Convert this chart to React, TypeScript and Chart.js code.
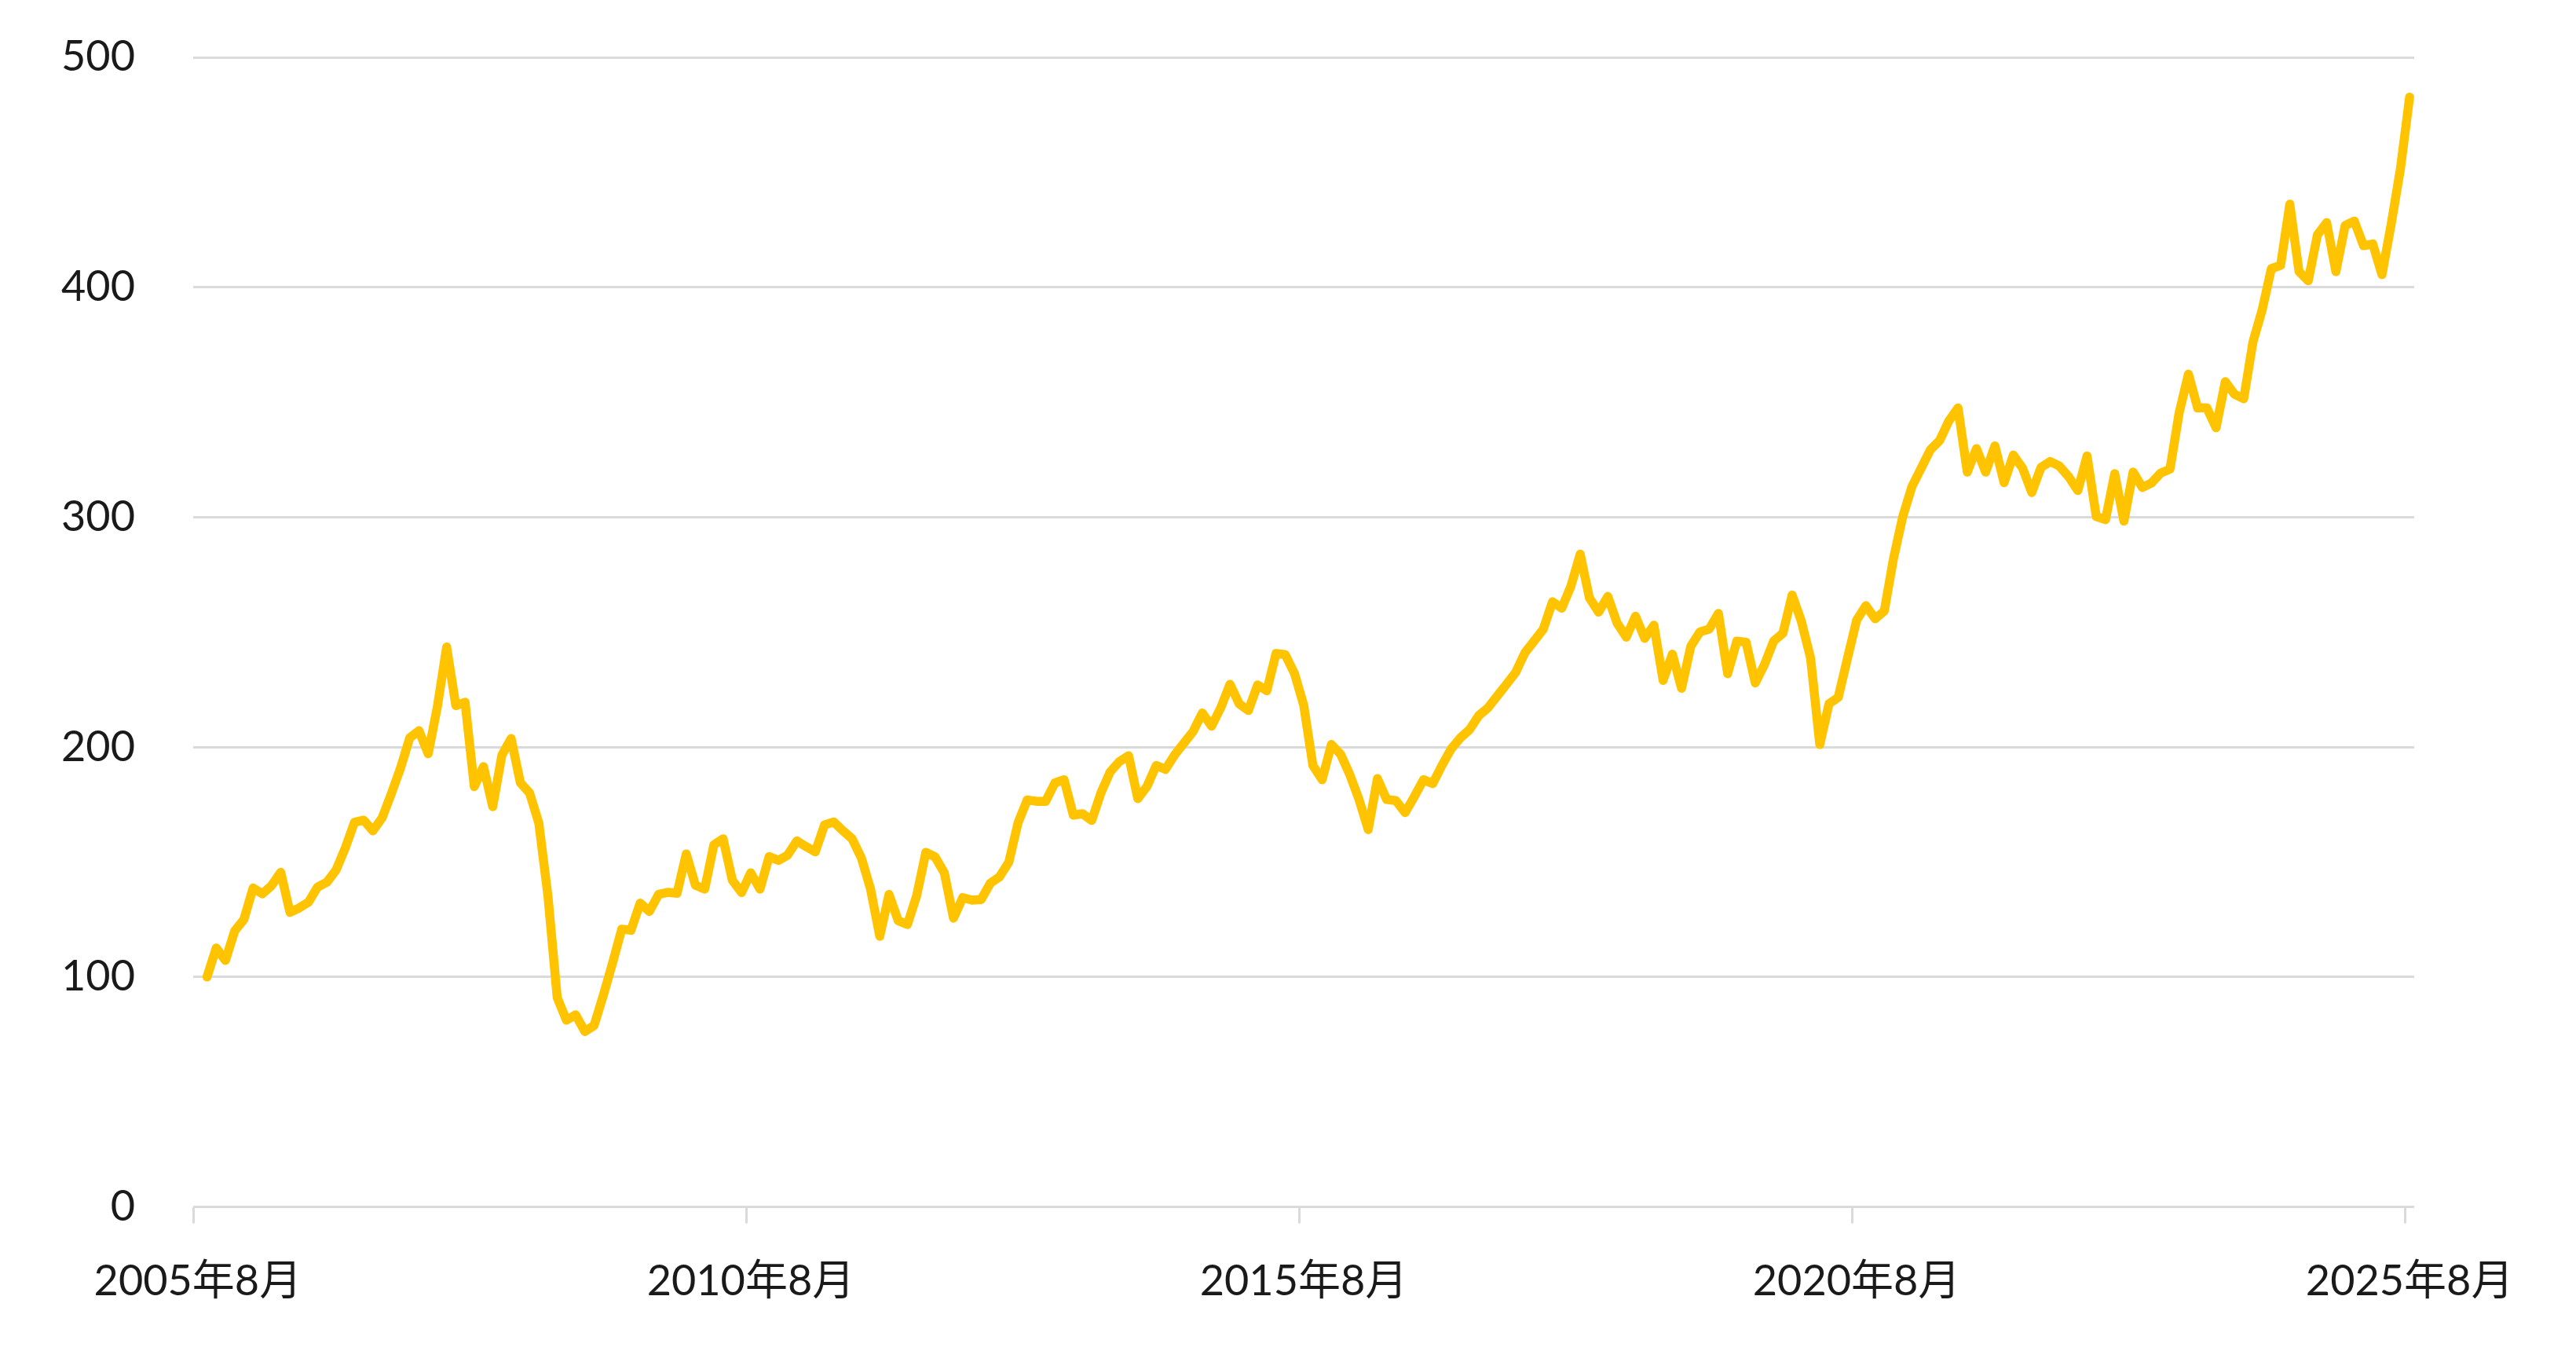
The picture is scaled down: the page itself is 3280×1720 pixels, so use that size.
import React, { useEffect, useRef } from "react";
import { Chart, registerables } from "chart.js";

Chart.register(...registerables);

// Axis categories: monthly, from 2005年8月 to 2025年8月
const START_YEAR = 2005;
const START_MONTH = 8;
const MONTH_COUNT = 241;
const TICK_EVERY = 60; // one labelled tick every 5 years

// Index values (first value = 100), monthly from 2005年9月
const values2005 = [100, 112.6, 107.2, 120.0];
const values2006 = [125.0, 138.7, 136.2, 139.7, 145.5, 128.1, 130.0, 132.5, 139.1, 141.2, 146.5, 156.1];
const values2007 = [167.3, 168.2, 163.6, 169.2, 179.7, 190.9, 204.0, 207.1, 197.1, 217.7, 243.5, 218.0];
const values2008 = [219.5, 182.8, 191.5, 174.1, 196.5, 203.7, 184.5, 180.0, 167.0, 135.0, 91.0, 81.2];
const values2009 = [83.5, 76.3, 78.9, 92.0, 106.0, 120.8, 120.3, 132.1, 128.5, 135.9, 136.8, 136.4];
const values2010 = [153.5, 139.9, 138.2, 157.5, 160.1, 142.1, 136.7, 145.3, 138.2, 152.4, 150.7, 153.0];
const values2011 = [159.2, 156.7, 154.4, 166.1, 167.4, 163.6, 160.1, 151.8, 138.2, 117.7, 135.9, 124.5];
const values2012 = [122.8, 135.3, 154.2, 152.2, 145.3, 125.6, 134.5, 133.4, 133.7, 140.8, 143.6, 149.9];
const values2013 = [167.0, 177.0, 176.4, 176.4, 184.4, 185.8, 170.4, 171.0, 168.1, 180.1, 189.2, 193.7];
const values2014 = [196.2, 177.6, 182.9, 192.0, 190.3, 196.6, 201.7, 206.8, 214.8, 209.1, 217.1, 227.3];
const values2015 = [218.8, 215.9, 227.0, 224.5, 240.7, 240.2, 232.0, 218.2, 192.0, 185.8, 201.1, 196.9];
const values2016 = [188.0, 177.2, 164.1, 186.3, 177.2, 176.7, 171.5, 178.4, 185.8, 184.1, 192.0, 199.2];
const values2017 = [204.0, 207.6, 213.7, 217.1, 222.2, 227.3, 232.5, 241.0, 246.1, 251.3, 263.2, 260.4];
const values2018 = [270.0, 283.9, 264.9, 258.7, 265.5, 254.0, 247.8, 256.9, 247.3, 253.0, 229.0, 240.4];
const values2019 = [225.6, 243.8, 250.1, 251.3, 258.1, 231.9, 246.1, 245.6, 227.9, 235.9, 246.1, 249.5];
const values2020 = [266.1, 254.7, 238.7, 201.1, 218.8, 221.6, 238.5, 255.2, 261.5, 255.8, 259.2, 282.0];
const values2021 = [300.2, 313.3, 321.3, 329.3, 333.3, 341.8, 347.5, 319.6, 329.8, 319.6, 331.0, 315.0];
const values2022 = [327.0, 321.3, 310.7, 321.6, 324.2, 322.2, 317.6, 311.6, 326.6, 300.3, 298.9, 318.9];
const values2023 = [298.3, 319.6, 312.9, 314.9, 319.2, 320.9, 345.5, 362.2, 347.5, 347.5, 338.9, 358.9];
const values2024 = [353.5, 351.5, 376.2, 390.1, 408.1, 409.5, 436.1, 406.8, 402.8, 422.8, 428.1, 406.8];
const values2025 = [426.8, 428.8, 418.1, 418.8, 405.5, 427.4, 451.4, 482.7];

// Y axis ticks
const Y_MIN = 0;
const Y_MAX = 500;
const Y_STEP = 100;

const monthLabels: string[] = [];
for (let i = 0; i < MONTH_COUNT; i++) {
  const m0 = START_MONTH - 1 + i;
  const y = START_YEAR + Math.floor(m0 / 12);
  const m = (m0 % 12) + 1;
  monthLabels.push(`${y}年${m}月`);
}

const seriesValues: (number | null)[] = [
  null, // 2005年8月: no value
  ...values2005, ...values2006, ...values2007, ...values2008, ...values2009,
  ...values2010, ...values2011, ...values2012, ...values2013, ...values2014,
  ...values2015, ...values2016, ...values2017, ...values2018, ...values2019,
  ...values2020, ...values2021, ...values2022, ...values2023, ...values2024,
  ...values2025,
];

const LINE_COLOR = "#FFC300";
const GRID_COLOR = "#DADADA";
const TEXT_COLOR = "#1A1A1A";
const FONT = { family: "Lato, 'Noto Sans CJK JP', sans-serif", size: 54 };

const W = 3280;
const H = 1720;
const AREA_LEFT = 246;
const AREA_RIGHT = 3074;
const AREA_BOTTOM = 1536.5;
const TOP_PADDING = 73;

export default function App() {
  const ref = useRef<HTMLCanvasElement>(null);

  useEffect(() => {
    if (!ref.current) return;
    const chart = new Chart(ref.current, {
      type: "line",
      data: {
        labels: monthLabels,
        datasets: [
          {
            data: seriesValues,
            borderColor: LINE_COLOR,
            backgroundColor: LINE_COLOR,
            borderWidth: 11.5,
            pointRadius: 0,
            tension: 0,
            borderJoinStyle: "round",
            borderCapStyle: "round",
            fill: false,
          },
        ],
      },
      options: {
        animation: false,
        responsive: true,
        maintainAspectRatio: false,
        devicePixelRatio: 1,
        layout: {
          padding: { left: 0, right: W - AREA_RIGHT, top: TOP_PADDING, bottom: 0 },
        },
        plugins: {
          legend: { display: false },
          tooltip: { enabled: false },
        },
        scales: {
          x: {
            type: "category",
            offset: true,
            border: { display: false },
            grid: {
              display: true,
              offset: true,
              drawOnChartArea: false,
              drawTicks: true,
              tickLength: 21,
              lineWidth: 3,
              color: (ctx: any) => (ctx.index % TICK_EVERY === 0 ? GRID_COLOR : "rgba(0,0,0,0)"),
            },
            ticks: {
              autoSkip: false,
              maxRotation: 0,
              minRotation: 0,
              padding: 42,
              font: FONT,
              color: TEXT_COLOR,
              callback: (_v: any, i: number) => (i % TICK_EVERY === 0 ? monthLabels[i] : ""),
            },
            afterFit: (s: any) => {
              s.height = H - AREA_BOTTOM;
            },
          },
          y: {
            min: Y_MIN,
            max: Y_MAX,
            border: { display: false },
            grid: {
              color: GRID_COLOR,
              lineWidth: 3,
              drawTicks: true,
              tickLength: 74,
              tickColor: "rgba(0,0,0,0)",
            },
            ticks: {
              stepSize: Y_STEP,
              padding: 0,
              font: FONT,
              color: TEXT_COLOR,
            },
            afterFit: (s: any) => {
              s.width = AREA_LEFT;
            },
          },
        },
      },
    });
    return () => chart.destroy();
  }, []);

  return (
    <div style={{ position: "fixed", left: 0, top: 0, width: W, height: H, background: "#fff" }}>
      <canvas ref={ref} />
    </div>
  );
}
